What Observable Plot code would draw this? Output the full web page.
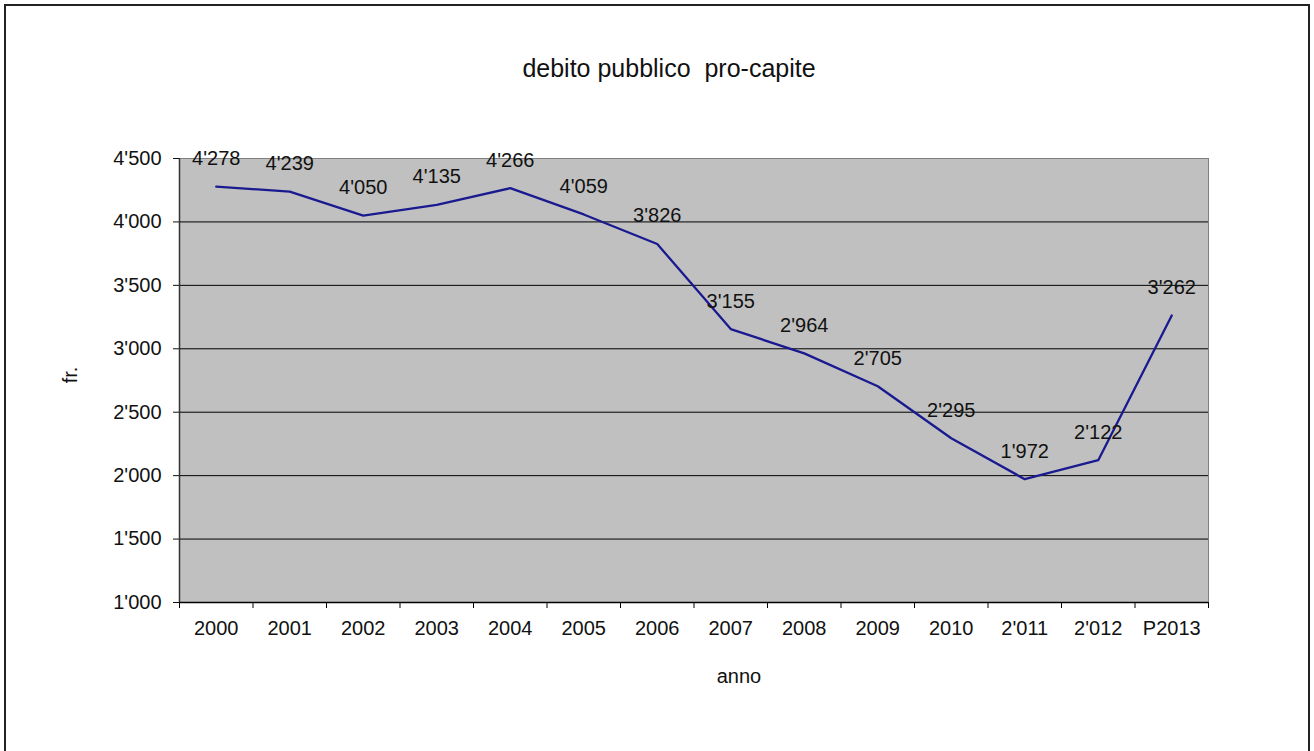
<!DOCTYPE html>
<html>
<head>
<meta charset="utf-8">
<script src="https://cdn.jsdelivr.net/npm/d3@7"></script>
<script src="https://cdn.jsdelivr.net/npm/@observablehq/plot@0.6"></script>
<style>
  body { margin: 0; background: #fff; font-family: "Liberation Sans", Arial, sans-serif; }
  #wrap { position: relative; width: 1314px; height: 751px; overflow: hidden; }
  #border { position: absolute; left: 4px; top: 4px; width: 1306px; height: 800px; border: 2px solid #222; box-sizing: border-box; }
  .lbl { position: absolute; font-size: 20px; color: #111; white-space: pre; }
  #title { left: 669px; top: 68px; font-size: 25px; transform: translate(-50%, -50%); }
  #xlab { left: 739px; top: 676px; transform: translate(-50%, -50%); }
  #ylab { left: 70px; top: 375px; transform: translate(-50%, -50%) rotate(-90deg); }
</style>
</head>
<body>
<div id="wrap">
  <div id="chart"></div>
  <div id="border"></div>
  <div class="lbl" id="title">debito pubblico  pro-capite</div>
  <div class="lbl" id="xlab">anno</div>
  <div class="lbl" id="ylab">fr.</div>
</div>
<script>
const years = ["2000","2001","2002","2003","2004","2005","2006","2007","2008","2009","2010","2'011","2'012","P2013"];
const values = [4278, 4239, 4050, 4135, 4266, 4059, 3826, 3155, 2964, 2705, 2295, 1972, 2122, 3262];
const yTicks = [1000, 1500, 2000, 2500, 3000, 3500, 4000, 4500];
const gridValues = [1500, 2000, 2500, 3000, 3500, 4000];

const fmt = n => d3.format(",")(n).replace(/,/g, "'");
const data = years.map((y, i) => ({year: y, value: values[i]}));

const W = 1314, H = 751, mL = 179, mR = 106, mT = 158, mB = 149;
const step = (W - mL - mR) / years.length;

const chart = Plot.plot({
  width: W,
  height: H,
  marginLeft: mL,
  marginRight: mR,
  marginTop: mT,
  marginBottom: mB,
  style: {fontFamily: "Liberation Sans, Arial, sans-serif", fontSize: "20px", background: "transparent", color: "#111"},
  x: {type: "band", domain: years, padding: 0, round: false},
  y: {domain: [1000, 4500]},
  marks: [
    Plot.frame({fill: "#c0c0c0", stroke: "#808080"}),
    Plot.ruleY(gridValues, {stroke: "#000", strokeWidth: 1}),
    Plot.ruleY([1000], {stroke: "#000", strokeWidth: 1.5}),
    Plot.ruleX([years[0]], {x: d => d, dx: -step / 2, stroke: "#333", strokeWidth: 1.5}),
    Plot.ruleX(years, {x: d => d, y1: 1000, y2: 1000, insetBottom: -6, dx: -step / 2, stroke: "#000"}),
    Plot.ruleX([years[years.length - 1]], {x: d => d, y1: 1000, y2: 1000, insetBottom: -6, dx: step / 2, stroke: "#000"}),
    Plot.axisY({ticks: yTicks, tickSize: 6, tickPadding: 12, tickFormat: fmt, fontSize: 20, label: null}),
    Plot.axisX({tickSize: 0, tickPadding: 18, fontSize: 20, label: null}),
    Plot.line(data, {x: "year", y: "value", stroke: "#1a1a90", strokeWidth: 2.3}),
    Plot.text(data, {x: "year", y: "value", text: d => fmt(d.value), dy: -28, fontSize: 20, fill: "#111"})
  ]
});
document.getElementById("chart").appendChild(chart);
</script>
</body>
</html>
